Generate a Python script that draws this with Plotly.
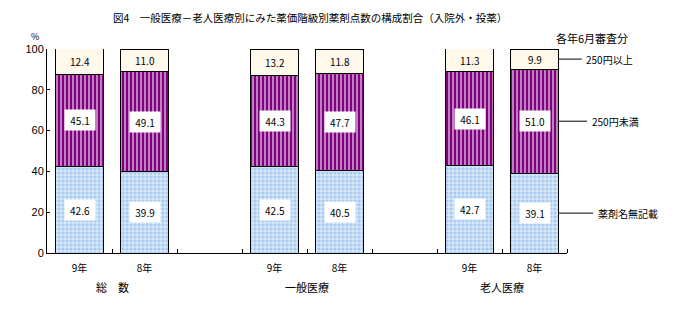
import plotly.graph_objects as go

# ---- data ----
x_pos = [0, 1, 3, 4, 6, 7]
x_labels = ["9年", "8年", "9年", "8年", "9年", "8年"]
group_labels = ["総　数", "一般医療", "老人医療"]
group_pos = [0.5, 3.5, 6.5]
series_names = ["薬剤名無記載", "250円未満", "250円以上"]
no_name = [42.6, 39.9, 42.5, 40.5, 42.7, 39.1]
under250 = [45.1, 49.1, 44.3, 47.7, 46.1, 51.0]
over250 = [12.4, 11.0, 13.2, 11.8, 11.3, 9.9]
y_ticks = [0, 20, 40, 60, 80, 100]

FONT = "Noto Sans CJK JP"
BW = 0.75
X_RANGE = [-0.5, 7.5]
Y_RANGE = [0, 100]

fig = go.Figure()
fig.add_bar(x=x_pos, y=no_name, name=series_names[0], width=BW,
            marker=dict(color="#A6CAF0", line=dict(color="black", width=1),
                        pattern=dict(shape="+", bgcolor="#A6CAF0", fgcolor="white",
                                     size=4, solidity=0.3, fillmode="replace")))
fig.add_bar(x=x_pos, y=under250, name=series_names[1], width=BW,
            marker=dict(color="#800080", line=dict(color="black", width=1),
                        pattern=dict(shape="|", bgcolor="#800080", fgcolor="white",
                                     size=4, solidity=0.25, fillmode="replace")))
fig.add_bar(x=x_pos, y=over250, name=series_names[2], width=BW,
            marker=dict(color="#FFF9EC", line=dict(color="black", width=1)))

annotations = []
for i, xp in enumerate(x_pos):
    b = no_name[i]
    m = under250[i]
    t = over250[i]
    annotations.append(dict(x=xp, y=b / 2, text=f"{b:.1f}", showarrow=False,
                            xanchor="center", yanchor="middle",
                            bgcolor="white", width=28, height=18,
                            font=dict(family=FONT, size=10, color="black")))
    annotations.append(dict(x=xp, y=b + m / 2, text=f"{m:.1f}", showarrow=False,
                            xanchor="center", yanchor="middle",
                            bgcolor="white", width=28, height=18,
                            font=dict(family=FONT, size=10, color="black")))
    annotations.append(dict(x=xp, y=b + m + t / 2, text=f"{t:.1f}", showarrow=False,
                            xanchor="center", yanchor="middle",
                            font=dict(family=FONT, size=10, color="black")))

for g, gp in zip(group_labels, group_pos):
    annotations.append(dict(x=gp, y=-0.167, yref="paper", text=g, showarrow=False,
                            xanchor="center", yanchor="middle",
                            font=dict(family=FONT, size=11, color="black")))

# legend labels at the right of the last bar (paper coords so nothing is clipped)
last = len(x_pos) - 1
leg_y = [no_name[last] / 2,
         no_name[last] + under250[last] / 2,
         no_name[last] + under250[last] + over250[last] / 2]
leg_len = [0.066, 0.054, 0.044]   # leader line lengths (paper fraction)
span_x = X_RANGE[1] - X_RANGE[0]
px0 = (x_pos[last] + BW / 2 - X_RANGE[0]) / span_x
shapes = []
for name, yy, ln in zip(series_names, leg_y, leg_len):
    py = (yy - Y_RANGE[0]) / (Y_RANGE[1] - Y_RANGE[0])
    shapes.append(dict(type="line", xref="paper", yref="paper", x0=px0, x1=px0 + ln,
                       y0=py, y1=py, line=dict(color="black", width=1)))
    annotations.append(dict(x=px0 + ln + 0.005, y=py, xref="paper", yref="paper",
                            xanchor="left", yanchor="middle", text=name, showarrow=False,
                            font=dict(family=FONT, size=10, color="black")))

annotations.append(dict(x=0.123, y=1.152, xref="paper", yref="paper", xanchor="left",
                        yanchor="middle", showarrow=False,
                        text="図4　一般医療－老人医療別にみた薬価階級別薬剤点数の構成割合（入院外・投薬）",
                        font=dict(family=FONT, size=10.5, color="black")))
annotations.append(dict(x=1.121, y=1.054, xref="paper", yref="paper", xanchor="right",
                        yanchor="middle", showarrow=False, text="各年6月審査分",
                        font=dict(family=FONT, size=11, color="black")))
annotations.append(dict(x=-0.023, y=1.062, xref="paper", yref="paper", xanchor="center",
                        yanchor="middle", showarrow=False, text="%",
                        font=dict(family=FONT, size=9, color="black")))

fig.update_layout(
    barmode="stack",
    width=691, height=311,
    margin=dict(l=47, r=124, t=49, b=58),
    paper_bgcolor="white", plot_bgcolor="white",
    showlegend=False,
    annotations=annotations,
    shapes=shapes,
    font=dict(family=FONT, size=10, color="black"),
    xaxis=dict(range=X_RANGE, tickvals=x_pos, ticktext=x_labels, ticks="",
               showline=True, linecolor="black", linewidth=1, showgrid=False,
               zeroline=False, tickfont=dict(family=FONT, size=10),
               ticklabelstandoff=6,
               minor=dict(tickvals=[0.5, 1.5, 2.5, 3.5, 4.5, 5.5, 6.5, 7.5],
                          ticks="inside", ticklen=4, tickcolor="black", showgrid=False)),
    yaxis=dict(range=Y_RANGE, tickvals=y_ticks, ticks="inside", ticklen=3,
               tickcolor="black", showline=True, linecolor="black", linewidth=1,
               showgrid=False, zeroline=False,
               tickfont=dict(family="Liberation Sans", size=11)),
)

fig.write_html("out.html")
